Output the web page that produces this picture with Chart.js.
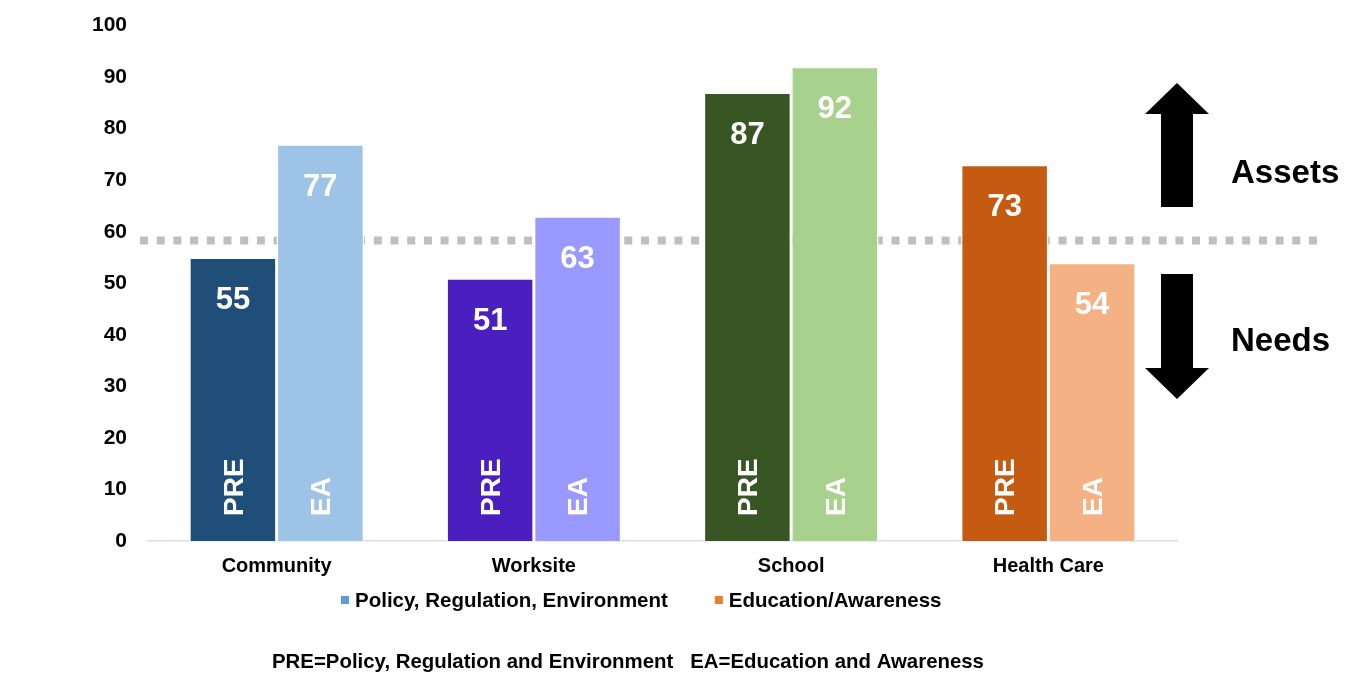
<!DOCTYPE html>
<html>
<head>
<meta charset="utf-8">
<script src="https://cdn.jsdelivr.net/npm/chart.js@4.4.0/dist/chart.umd.min.js"></script>
<style>
  html, body { margin: 0; padding: 0; background: #fff; }
  #wrap { width: 1349px; height: 673px; position: relative; }
</style>
</head>
<body>
<div id="wrap"><canvas id="grafica"></canvas></div>
<script>
// Datos
const categorias = ["Community", "Worksite", "School", "Health Care"];
const valoresPRE = [55, 51, 87, 73];
const valoresEA = [77, 63, 92, 54];
const coloresPRE = ["#1F4E79", "#4B1FBF", "#375623", "#C55A11"];
const coloresEA = ["#9DC3E6", "#9999FF", "#A9D18E", "#F4B183"];
const etiquetasSerie = ["PRE", "EA"];
const nombresLeyenda = ["Policy, Regulation, Environment", "Education/Awareness"];
const coloresLeyenda = ["#5B9BD5", "#ED7D31"];
const ticksY = [0, 10, 20, 30, 40, 50, 60, 70, 80, 90, 100];
const umbral = 58.3; // linea punteada assets / needs
const nota = "PRE=Policy, Regulation and Environment   EA=Education and Awareness";

const fuente = "'Liberation Sans', Arial, sans-serif";

// Linea punteada detras de las barras
const lineaUmbral = {
  id: "lineaUmbral",
  beforeDatasetsDraw(chart) {
    const { ctx, chartArea } = chart;
    const y = chart.scales.y.getPixelForValue(umbral);
    ctx.save();
    ctx.strokeStyle = "#BFBFBF";
    ctx.lineWidth = 8;
    ctx.setLineDash([8, 8.7]);
    ctx.beginPath();
    ctx.moveTo(chartArea.left - 8, y);
    ctx.lineTo(1318, y);
    ctx.stroke();
    ctx.restore();
  },
};

// Valores y PRE / EA dentro de las barras
const etiquetas = {
  id: "etiquetas",
  afterDatasetsDraw(chart) {
    const { ctx } = chart;
    const yBase = chart.scales.y.getPixelForValue(0);
    ctx.save();
    ctx.fillStyle = "#FFFFFF";
    chart.data.datasets.forEach((ds, i) => {
      chart.getDatasetMeta(i).data.forEach((bar, j) => {
        ctx.font = "bold 31px " + fuente;
        ctx.textAlign = "center";
        ctx.textBaseline = "middle";
        ctx.fillText(String(ds.data[j]), bar.x, bar.y + 43);
        ctx.save();
        ctx.font = "bold 28px " + fuente;
        ctx.translate(bar.x, yBase - 25);
        ctx.rotate(-Math.PI / 2);
        ctx.textAlign = "left";
        ctx.fillText(etiquetasSerie[i], 0, 2);
        ctx.restore();
      });
    });
    ctx.restore();
  },
};

// Flechas Assets / Needs
function flecha(ctx, cx, yCola, yPunta, dir) {
  const anchoCuerpo = 32, anchoCabeza = 64, largoCabeza = 31;
  const yCabeza = yPunta - dir * largoCabeza;
  ctx.beginPath();
  ctx.moveTo(cx - anchoCuerpo / 2, yCola);
  ctx.lineTo(cx - anchoCuerpo / 2, yCabeza);
  ctx.lineTo(cx - anchoCabeza / 2, yCabeza);
  ctx.lineTo(cx, yPunta);
  ctx.lineTo(cx + anchoCabeza / 2, yCabeza);
  ctx.lineTo(cx + anchoCuerpo / 2, yCabeza);
  ctx.lineTo(cx + anchoCuerpo / 2, yCola);
  ctx.closePath();
  ctx.fill();
}

// Flechas, leyenda y nota al pie
const extras = {
  id: "extras",
  afterDraw(chart) {
    const { ctx } = chart;
    ctx.save();
    ctx.fillStyle = "#000";
    flecha(ctx, 1177, 207, 83, -1);
    flecha(ctx, 1177, 274, 399, 1);
    ctx.font = "bold 33px " + fuente;
    ctx.textAlign = "left";
    ctx.textBaseline = "middle";
    ctx.fillText("Assets", 1231, 174);
    ctx.fillText("Needs", 1231, 342);

    // leyenda
    ctx.font = "bold 20.5px " + fuente;
    let x = 341;
    nombresLeyenda.forEach((n, i) => {
      ctx.fillStyle = coloresLeyenda[i];
      ctx.fillRect(x, 596, 8, 8);
      ctx.fillStyle = "#000";
      ctx.fillText(n, x + 14, 601);
      x += 14 + ctx.measureText(n).width + 47;
    });

    // nota
    ctx.font = "bold 20.4px " + fuente;
    ctx.textAlign = "left";
    ctx.fillText(nota, 272, 662);
    ctx.restore();
  },
};

const grafica = document.getElementById("grafica").getContext("2d");
const myChart = new Chart(grafica, {
  type: "bar",
  data: {
    labels: categorias,
    datasets: [
      {
        label: nombresLeyenda[0],
        data: valoresPRE,
        backgroundColor: coloresPRE,
        borderColor: "#FFFFFF",
        borderWidth: 1.5,
        borderSkipped: "bottom",
        categoryPercentage: 0.68,
        barPercentage: 1,
      },
      {
        label: nombresLeyenda[1],
        data: valoresEA,
        backgroundColor: coloresEA,
        borderColor: "#FFFFFF",
        borderWidth: 1.5,
        borderSkipped: "bottom",
        categoryPercentage: 0.68,
        barPercentage: 1,
      },
    ],
  },
  options: {
    responsive: true,
    maintainAspectRatio: false,
    animation: false,
    layout: { padding: { top: 10, right: 172, left: 0, bottom: 90 } },
    scales: {
      x: {
        grid: { display: false },
        border: { display: true, color: "#D9DCEC", width: 1.5 },
        ticks: {
          color: "#000",
          padding: 5,
          font: { family: fuente, size: 20, weight: "bold" },
        },
      },
      y: {
        min: 0,
        max: 100,
        afterBuildTicks: (axis) => {
          axis.ticks = ticksY.map((v) => ({ value: v }));
        },
        afterFit: (axis) => {
          axis.width = 148;
        },
        grid: { display: false },
        border: { display: false },
        ticks: {
          color: "#000",
          padding: 13,
          font: { family: fuente, size: 21, weight: "bold" },
        },
      },
    },
    plugins: {
      legend: { display: false },
      title: { display: false },
      tooltip: { enabled: false },
    },
  },
  plugins: [lineaUmbral, etiquetas, extras],
});
</script>
</body>
</html>
